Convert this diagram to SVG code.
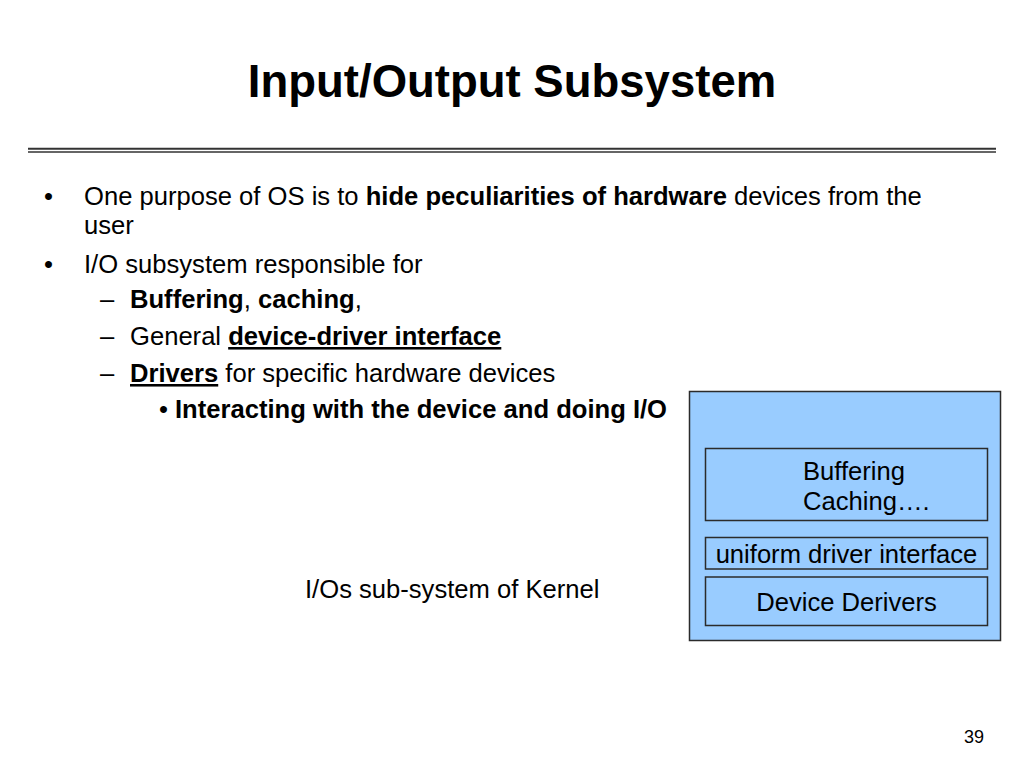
<svg xmlns="http://www.w3.org/2000/svg" width="1024" height="768" viewBox="0 0 1024 768">
<style>
text{font-family:"Liberation Sans",Arial,sans-serif;fill:#000}
.t{font-size:45.5px;font-weight:bold}
.b{font-size:25.6px}
.bd{font-weight:bold}
.u{text-decoration:underline}
.box{fill:#99CCFF;stroke:#2b2b2b;stroke-width:1.5}
.pn{font-size:18px}
</style>
<rect width="1024" height="768" fill="#fff"/>
<g id="title">
<text class="t" x="512" y="97" text-anchor="middle">Input/Output Subsystem</text>
<line x1="28" y1="148.7" x2="996" y2="148.7" stroke="#333" stroke-width="2"/>
<line x1="28" y1="152" x2="996" y2="152" stroke="#333" stroke-width="1.5"/>
</g>
<g id="bullets" class="b">
<text class="b" x="44" y="205">•</text>
<text class="b" x="84" y="205">One purpose of OS is to <tspan class="bd">hide peculiarities of hardware</tspan> devices from the</text>
<text class="b" x="84" y="234">user</text>
<text class="b" x="44" y="273">•</text>
<text class="b" x="84" y="273">I/O subsystem responsible for</text>
<text class="b" x="100" y="308">–</text>
<text class="b" x="130" y="308"><tspan class="bd">Buffering</tspan>, <tspan class="bd">caching</tspan>,</text>
<text class="b" x="100" y="345">–</text>
<text class="b" x="130" y="345">General <tspan class="bd u">device-driver interface</tspan></text>
<text class="b" x="100" y="382">–</text>
<text class="b" x="130" y="382"><tspan class="bd u">Drivers</tspan> for specific hardware devices</text>
<text class="b" x="159" y="418">•</text>
<text class="b bd" x="175" y="418">Interacting with the device and doing I/O</text>
</g>
<g id="caption">
<text class="b" x="305" y="598">I/Os sub-system of Kernel</text>
</g>
<g id="kernel-panel">
<rect class="box" x="689.5" y="391.5" width="311" height="249"/>
</g>
<g id="buffering-node">
<rect class="box" x="705.5" y="448.5" width="282" height="72"/>
<text class="b" x="803" y="480">Buffering</text>
<text class="b" x="803" y="510">Caching….</text>
</g>
<g id="uniform-node">
<rect class="box" x="705.5" y="537.5" width="282" height="31.5"/>
<text class="b" x="846.5" y="563" text-anchor="middle">uniform driver interface</text>
</g>
<g id="drivers-node">
<rect class="box" x="705.5" y="577" width="282" height="48.5"/>
<text class="b" x="846.5" y="611" text-anchor="middle">Device Derivers</text>
</g>
<g id="page-number">
<text class="pn" x="984" y="743" text-anchor="end">39</text>
</g>
</svg>
